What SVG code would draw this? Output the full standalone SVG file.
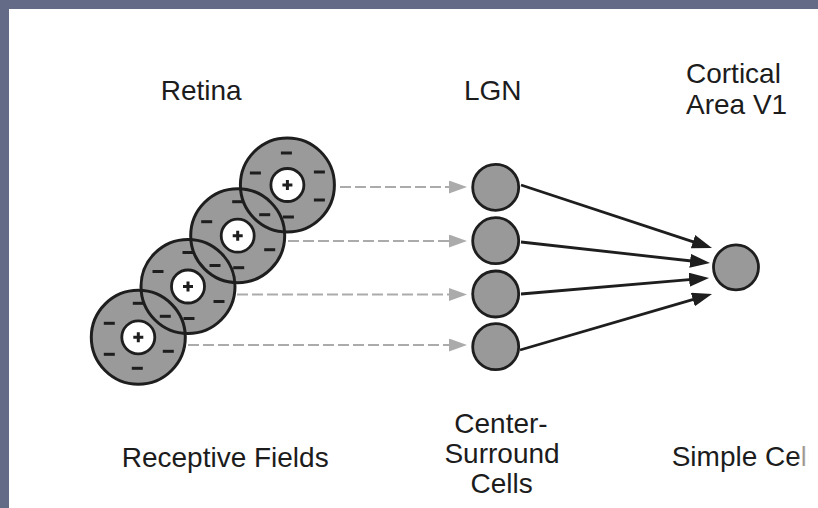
<svg xmlns="http://www.w3.org/2000/svg" width="818" height="508" viewBox="0 0 818 508">
<style>
.lbl{font-family:"Liberation Sans",Arial,sans-serif;font-size:28px;fill:#1c1c1c}
.ring{fill:none;stroke:#1e1e1e;stroke-width:3}
.disk{fill:#9a9a9a}
.ctr{fill:#fff;stroke:#1e1e1e;stroke-width:2.8}
.sign{stroke:#1e1e1e;stroke-width:3;fill:none}
.cell{fill:#999;stroke:#1e1e1e;stroke-width:2.8}
.dash{stroke:#ababab;stroke-width:2.2;stroke-dasharray:11 4;fill:none}
.solid{stroke:#1e1e1e;stroke-width:2.8;fill:none}
</style>
<defs>
<marker id="ga" markerUnits="userSpaceOnUse" markerWidth="18" markerHeight="13" refX="6" refY="6.5" orient="auto">
<path d="M0,0 L18,6.5 L0,13 z" fill="#ababab"/>
</marker>
<marker id="ba" markerUnits="userSpaceOnUse" markerWidth="20" markerHeight="14" refX="6" refY="7" orient="auto">
<path d="M0,0 L20,7 L0,14 z" fill="#1e1e1e"/>
</marker>
<path id="m" d="M-5.5,0 H5.5"/>
<path id="p" d="M-5,0 H5 M0,-5 V5"/>
<linearGradient id="fade" x1="0" x2="1" y1="0" y2="0">
<stop offset="0" stop-color="#fff" stop-opacity="0"/>
<stop offset="1" stop-color="#fff" stop-opacity="1"/>
</linearGradient>
</defs>
<rect x="0" y="0" width="818" height="508" fill="#646b87"/>
<rect x="9" y="9" width="809" height="499" fill="#fff"/>

<g id="rf-fills">
<circle class="disk" cx="138.3" cy="337.3" r="47"/>
<circle class="disk" cx="188" cy="286.5" r="47"/>
<circle class="disk" cx="237.7" cy="235.7" r="47"/>
<circle class="disk" cx="287.4" cy="185" r="47"/>
</g>

<g id="connectors">
<line class="dash" x1="340" y1="187" x2="455" y2="187" marker-end="url(#ga)"/>
<line class="dash" x1="288" y1="241" x2="455" y2="241" marker-end="url(#ga)"/>
<line class="dash" x1="237" y1="294.5" x2="455" y2="294.5" marker-end="url(#ga)"/>
<line class="dash" x1="188" y1="345" x2="455" y2="345" marker-end="url(#ga)"/>
<line class="solid" x1="521" y1="185" x2="698.7" y2="243.6" marker-end="url(#ba)"/>
<line class="solid" x1="521" y1="242" x2="696.1" y2="261.5" marker-end="url(#ba)"/>
<line class="solid" x1="521" y1="294" x2="695.1" y2="279.2" marker-end="url(#ba)"/>
<line class="solid" x1="520" y1="350" x2="698.6" y2="297.9" marker-end="url(#ba)"/>
</g>

<g id="rf1" transform="translate(138.3,337.3)">
<circle class="ring" r="47"/>
<circle class="ctr" r="16.5"/>
<use href="#p" class="sign"/>
<use href="#m" class="sign" x="0" y="-34"/>
<use href="#m" class="sign" x="-29" y="-14"/>
<use href="#m" class="sign" x="-29" y="17"/>
<use href="#m" class="sign" x="-1" y="31"/>
<use href="#m" class="sign" x="30" y="14"/>
<use href="#m" class="sign" x="27" y="-21"/>
</g>
<g id="rf2" transform="translate(188,286.5)">
<circle class="ring" r="47"/>
<circle class="ctr" r="16.5"/>
<use href="#p" class="sign"/>
<use href="#m" class="sign" x="0" y="-34"/>
<use href="#m" class="sign" x="-30" y="-15"/>
<use href="#m" class="sign" x="31" y="15"/>
<use href="#m" class="sign" x="1" y="32"/>
<use href="#m" class="sign" x="27" y="-21"/>
</g>
<g id="rf3" transform="translate(237.7,235.7)">
<circle class="ring" r="47"/>
<circle class="ctr" r="16.5"/>
<use href="#p" class="sign"/>
<use href="#m" class="sign" x="0" y="-34"/>
<use href="#m" class="sign" x="-31" y="-14"/>
<use href="#m" class="sign" x="32" y="14"/>
<use href="#m" class="sign" x="1" y="32"/>
<use href="#m" class="sign" x="27" y="-21"/>
</g>
<g id="rf4" transform="translate(287.4,185)">
<circle class="ring" r="47"/>
<circle class="ctr" r="16.5"/>
<use href="#p" class="sign"/>
<use href="#m" class="sign" x="-1" y="-32"/>
<use href="#m" class="sign" x="-32" y="-12"/>
<use href="#m" class="sign" x="32" y="-13"/>
<use href="#m" class="sign" x="32" y="15"/>
<use href="#m" class="sign" x="1" y="32"/>
</g>

<g id="lgn1"><circle class="cell" cx="495.7" cy="187.3" r="23"/></g>
<g id="lgn2"><circle class="cell" cx="495.7" cy="240.7" r="23"/></g>
<g id="lgn3"><circle class="cell" cx="495.7" cy="294" r="23"/></g>
<g id="lgn4"><circle class="cell" cx="495.7" cy="346.7" r="23"/></g>
<g id="simple-cell"><circle class="cell" cx="736" cy="267.3" r="22.5"/></g>

<g id="labels">
<text class="lbl" x="160.7" y="100">Retina</text>
<text class="lbl" x="464" y="100">LGN</text>
<text class="lbl" x="686" y="83">Cortical</text>
<text class="lbl" x="686" y="114">Area V1</text>
<text class="lbl" x="121.7" y="466.5">Receptive Fields</text>
<text class="lbl" x="501" y="433.3" text-anchor="middle">Center-</text>
<text class="lbl" x="502" y="463.3" text-anchor="middle">Surround</text>
<text class="lbl" x="501.7" y="493.3" text-anchor="middle">Cells</text>
<text class="lbl" x="671.7" y="465.5">Simple Cell</text>
<rect x="797" y="430" width="12" height="45" fill="url(#fade)"/>
<rect x="809" y="430" width="9" height="45" fill="#fff"/>
</g>
</svg>
